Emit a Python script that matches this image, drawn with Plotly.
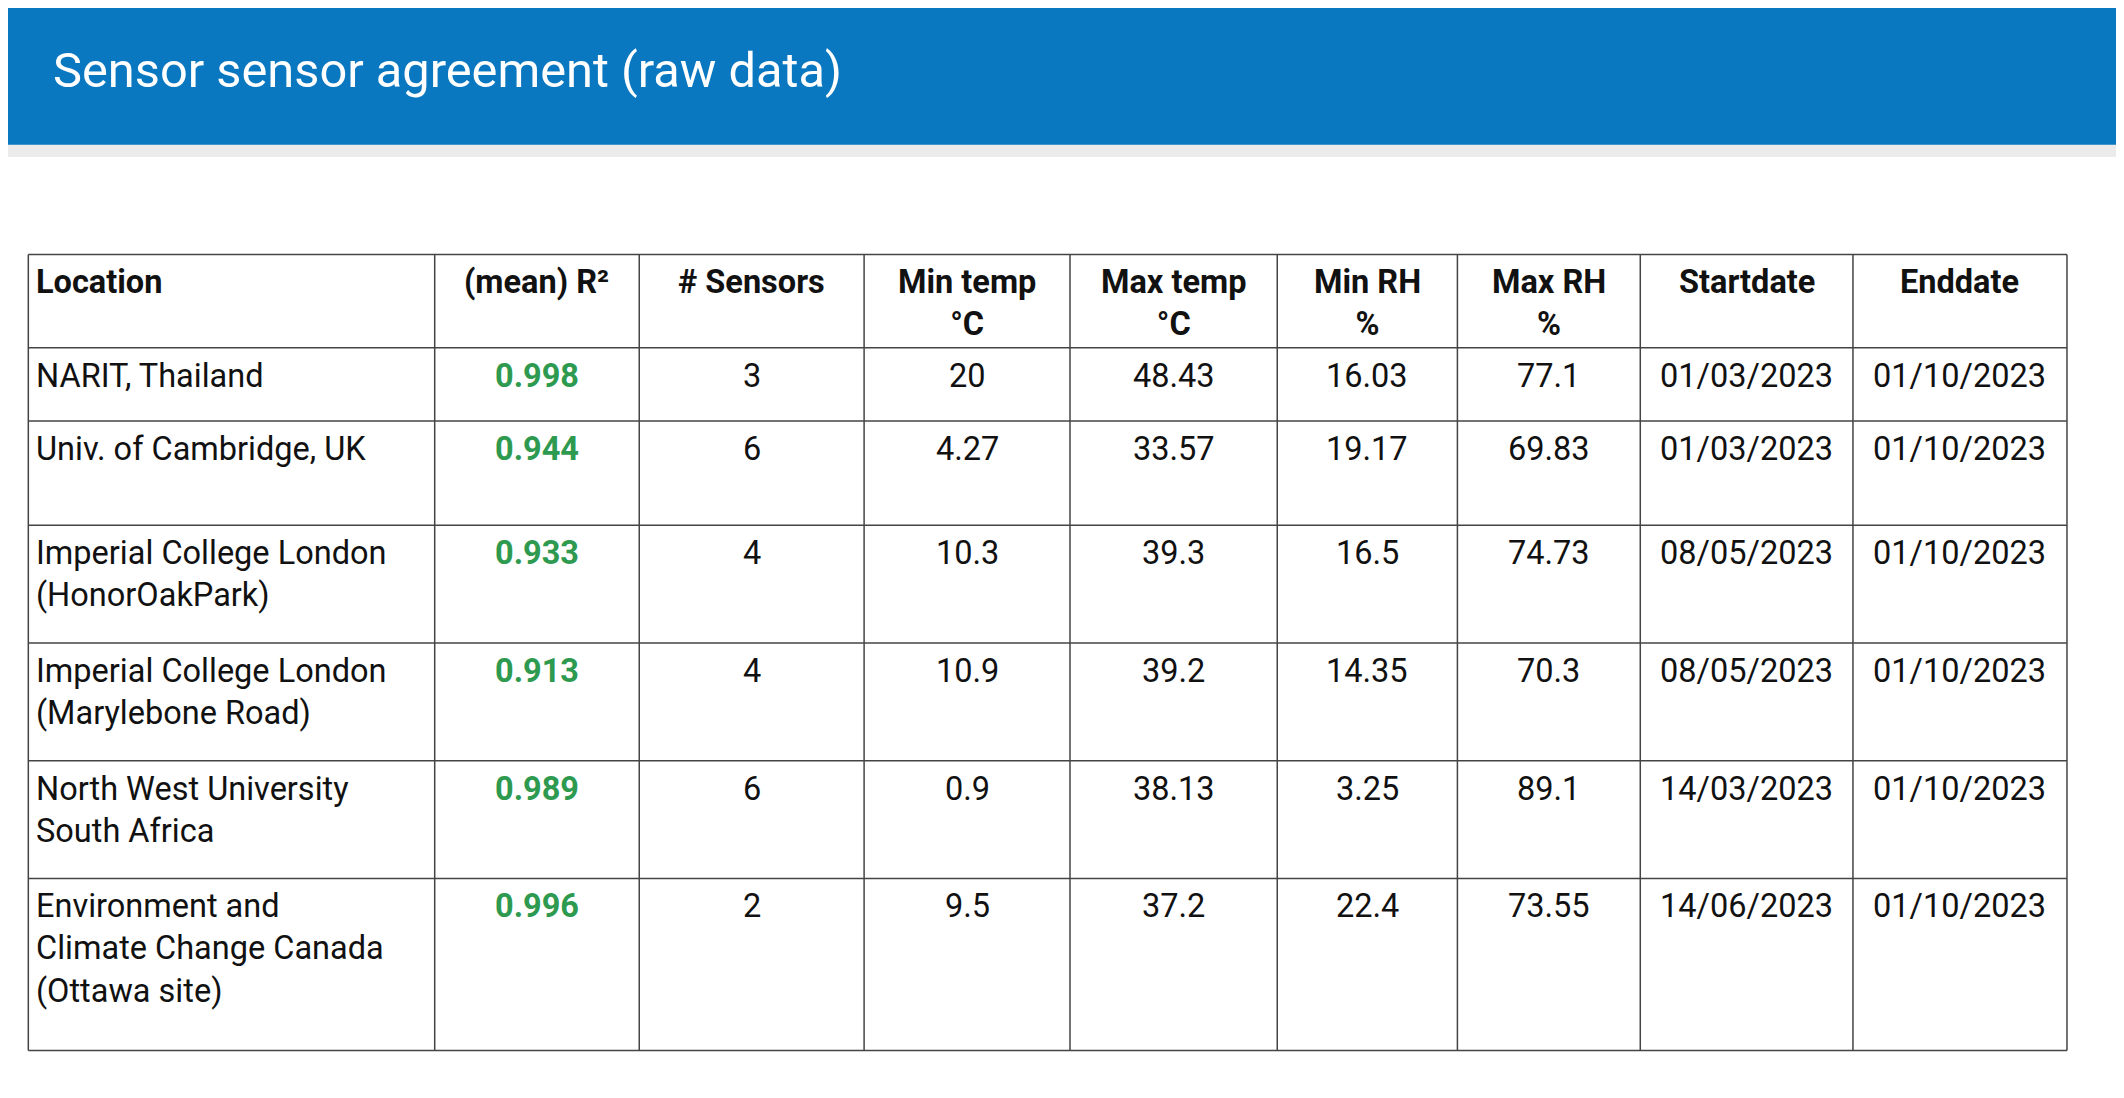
import plotly.graph_objects as go

# Table content
headers = ["Location", "(mean) R²", "# Sensors", "Min temp<br>°C", "Max temp<br>°C",
           "Min RH<br>%", "Max RH<br>%", "Startdate", "Enddate"]
locations = ["NARIT, Thailand", "Univ. of Cambridge, UK",
             "Imperial College London<br>(HonorOakPark)",
             "Imperial College London<br>(Marylebone Road)",
             "North West University<br>South Africa",
             "Environment and<br>Climate Change Canada<br>(Ottawa site)"]
r2 = ["0.998", "0.944", "0.933", "0.913", "0.989", "0.996"]
sensors = ["3", "6", "4", "4", "6", "2"]
min_temp = ["20", "4.27", "10.3", "10.9", "0.9", "9.5"]
max_temp = ["48.43", "33.57", "39.3", "39.2", "38.13", "37.2"]
min_rh = ["16.03", "19.17", "16.5", "14.35", "3.25", "22.4"]
max_rh = ["77.1", "69.83", "74.73", "70.3", "89.1", "73.55"]
start = ["01/03/2023", "01/03/2023", "08/05/2023", "08/05/2023", "14/03/2023", "14/06/2023"]
end = ["01/10/2023"] * 6

# layout grid in reference pixels (1568 x 811 picture)
W, H = 1568, 811
S = 2124 / W
col_edges = [15, 315, 466, 632, 784, 937, 1070, 1205, 1362, 1520]
row_edges = [182, 251, 305, 382, 469, 556, 643, 770]
FS = 24 * S
FONT = "Roboto, Arial, sans-serif"

fig = go.Figure()
shapes = []
annotations = []

# blue header bar with soft shadow
shapes.append(dict(type="rect", x0=0, x1=W, y0=100, y1=110, line_width=0,
                   fillcolor="rgba(0,0,0,0.08)", layer="below"))
shapes.append(dict(type="rect", x0=0, x1=W, y0=0, y1=101, line_width=0,
                   fillcolor="#0a77c1", layer="below"))
annotations.append(dict(x=32, y=46, text="Sensor sensor agreement (raw data)",
                        xanchor="left", yanchor="middle", showarrow=False,
                        font=dict(family=FONT, size=36 * S, color="white")))

# grid lines
for x in col_edges:
    shapes.append(dict(type="line", x0=x, x1=x, y0=row_edges[0], y1=row_edges[-1],
                       line=dict(color="#444", width=1.5)))
for y in row_edges:
    shapes.append(dict(type="line", x0=col_edges[0], x1=col_edges[-1], y0=y, y1=y,
                       line=dict(color="#444", width=1.5)))


def cell(ci, ri, text, bold=False, color="#111"):
    left = ci == 0
    x = col_edges[ci] + 4 if left else (col_edges[ci] + col_edges[ci + 1]) / 2
    y = row_edges[ri] + 5
    if bold:
        text = "<b>" + text + "</b>"
    annotations.append(dict(x=x, y=y, text=text, showarrow=False,
                            xanchor="left" if left else "center", yanchor="top",
                            align="left" if left else "center",
                            font=dict(family=FONT, size=FS, color=color)))


for ci, h in enumerate(headers):
    cell(ci, 0, h, bold=True)

columns = [locations, r2, sensors, min_temp, max_temp, min_rh, max_rh, start, end]
for ci, col in enumerate(columns):
    for ri, v in enumerate(col):
        if ci == 1:
            cell(ci, ri + 1, v, bold=True, color="#2e9a50")
        else:
            cell(ci, ri + 1, v)

fig.update_layout(
    width=2124, height=1098,
    margin=dict(l=0, r=0, t=0, b=0),
    paper_bgcolor="white", plot_bgcolor="white",
    xaxis=dict(range=[0, W], visible=False, fixedrange=True),
    yaxis=dict(range=[H, 0], visible=False, fixedrange=True),
    shapes=shapes, annotations=annotations, showlegend=False,
)
fig.write_html("out.html")
